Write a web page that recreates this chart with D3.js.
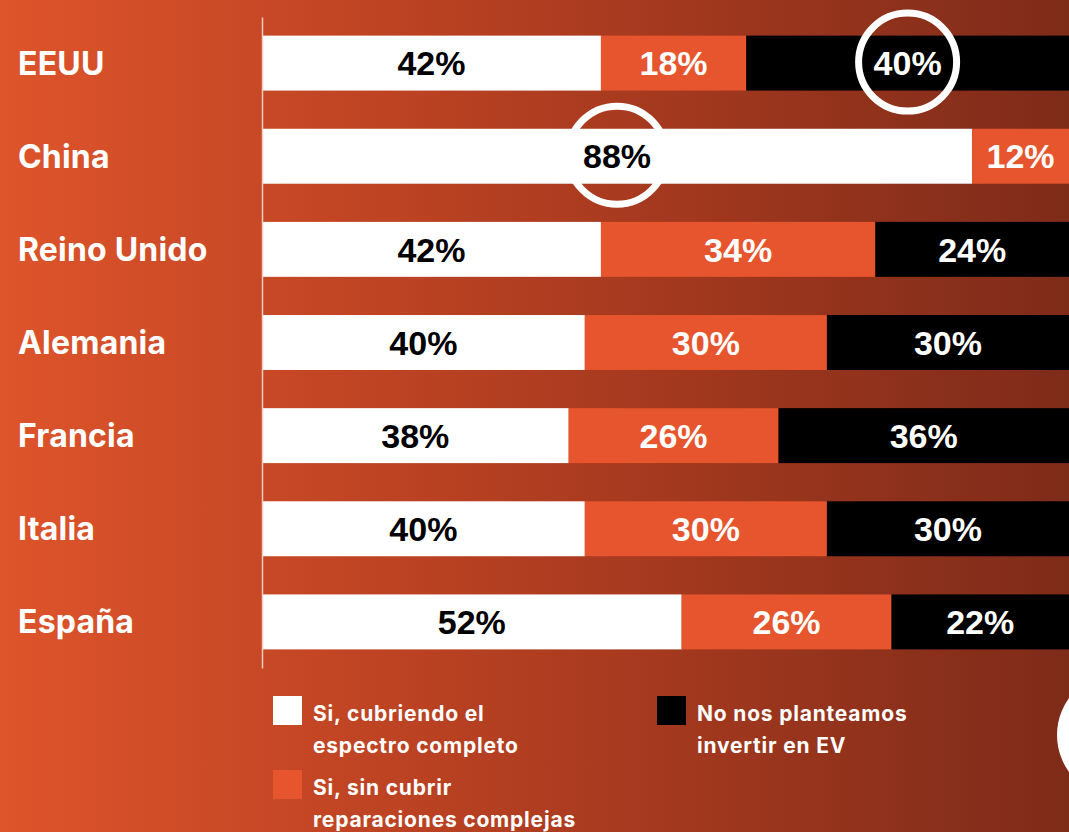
<!DOCTYPE html>
<html>
<head>
<meta charset="utf-8">
<script src="https://cdn.jsdelivr.net/npm/d3@7"></script>
<style>
  html, body { margin: 0; padding: 0; background: #b8401f; }
  svg { display: block; }
</style>
</head>
<body>
<svg id="chart" width="1069" height="832"></svg>
<script>
// Countries and survey answer shares (%)
const countries = ["EEUU", "China", "Reino Unido", "Alemania", "Francia", "Italia", "España"];
const completo   = [42, 88, 42, 40, 38, 40, 52];
const parcial    = [18, 12, 34, 30, 26, 30, 26];
const noInvertir = [40, 0, 24, 30, 36, 30, 22];

const seriesKeys   = ["completo", "parcial", "noInvertir"];
const seriesLabels = [
  ["Si, cubriendo el", "espectro completo"],
  ["Si, sin cubrir", "reparaciones complejas"],
  ["No nos planteamos", "invertir en EV"]
];
// Highlighted cells: [country, series]
const highlights = [["EEUU", "noInvertir"], ["China", "completo"]];

const W = 1069, H = 832;
const colors = { completo: "#ffffff", parcial: "#e6552d", noInvertir: "#000000" };
const textColors = { completo: "#000000", parcial: "#ffffff", noInvertir: "#ffffff" };

const rows = countries.map((c, i) => ({
  country: c, completo: completo[i], parcial: parcial[i], noInvertir: noInvertir[i]
}));

const svg = d3.select("#chart");

// Background gradient
const defs = svg.append("defs");
const grad = defs.append("linearGradient").attr("id", "bg").attr("x1", "0").attr("x2", "1").attr("y1", "0").attr("y2", "0");
grad.append("stop").attr("offset", "0%").attr("stop-color", "#de542b");
grad.append("stop").attr("offset", "45%").attr("stop-color", "#b53f21");
grad.append("stop").attr("offset", "100%").attr("stop-color", "#7e2b19");
svg.append("rect").attr("width", W).attr("height", H).attr("fill", "url(#bg)");

const x = d3.scaleLinear().domain([0, 100]).range([262, 1069]);
const y = d3.scaleBand().domain(countries).range([17, 668]).paddingInner(0.41).paddingOuter(0.2);

const stacked = d3.stack().keys(seriesKeys)(rows);

// Bars
const layers = svg.append("g").selectAll("g").data(stacked).join("g")
  .attr("fill", d => colors[d.key]);
layers.selectAll("rect").data(d => d.map(v => ({ v, key: d.key })))
  .join("rect")
  .attr("x", d => x(d.v[0]))
  .attr("y", d => y(d.v.data.country))
  .attr("width", d => x(d.v[1]) - x(d.v[0]))
  .attr("height", y.bandwidth());

// Value labels
const labelG = svg.append("g")
  .attr("font-family", "'Liberation Sans', Arial, sans-serif")
  .attr("font-weight", 700)
  .attr("font-size", 34)
  .attr("text-anchor", "middle");
stacked.forEach(layer => {
  layer.forEach(v => {
    const val = v[1] - v[0];
    if (val <= 0) return;
    labelG.append("text")
      .attr("x", (x(v[0]) + x(v[1])) / 2)
      .attr("y", y(v.data.country) + y.bandwidth() / 2)
      .attr("dy", "0.36em")
      .attr("fill", textColors[layer.key])
      .text(val + "%");
  });
});

// Highlight rings
highlights.forEach(([c, key]) => {
  const layer = stacked.find(l => l.key === key);
  const v = layer[countries.indexOf(c)];
  svg.append("circle")
    .attr("cx", (x(v[0]) + x(v[1])) / 2)
    .attr("cy", y(c) + y.bandwidth() / 2 - 1)
    .attr("r", 49)
    .attr("fill", "none")
    .attr("stroke", "#ffffff")
    .attr("stroke-width", 7);
});

// Axis line and country labels
const yAxis = svg.append("g").attr("transform", "translate(262,0)")
  .call(d3.axisLeft(y).tickSize(0).tickPadding(244));
yAxis.select(".domain").attr("stroke", "#f2cbbd").attr("stroke-width", 1.5);
yAxis.selectAll("text")
  .attr("text-anchor", "start")
  .attr("fill", "#ffffff")
  .attr("font-family", "Inter, 'Noto Sans', sans-serif")
  .attr("font-weight", 700)
  .attr("font-size", 32)
  .attr("letter-spacing", "0.2")
  .attr("dy", "0.36em");

// Legend
const legendPos = [[273, 696], [273, 770], [657, 696]];
const legend = svg.append("g")
  .attr("font-family", "Inter, 'Noto Sans', sans-serif")
  .attr("font-weight", 700)
  .attr("font-size", 21)
  .attr("letter-spacing", "0.8")
  .attr("fill", "#ffffff");
seriesKeys.forEach((k, i) => {
  const [lx, ly] = legendPos[i];
  legend.append("rect").attr("x", lx).attr("y", ly).attr("width", 29).attr("height", 29)
    .attr("fill", colors[k]);
  const t = legend.append("text").attr("x", lx + 40).attr("y", ly + 25);
  seriesLabels[i].forEach((line, j) => {
    t.append("tspan").attr("x", lx + 40).attr("dy", j === 0 ? 0 : 32).text(line);
  });
});

// Decorative disc at the right edge
svg.append("circle").attr("cx", 1120).attr("cy", 735).attr("r", 63).attr("fill", "#ffffff");
</script>
</body>
</html>
